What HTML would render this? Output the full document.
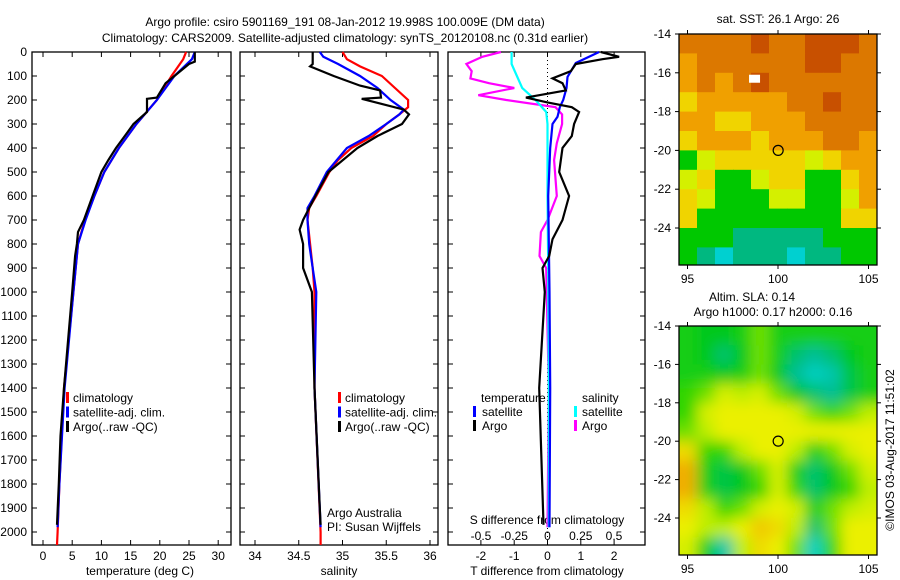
<!DOCTYPE html>
<html><head><meta charset="utf-8"><style>
html,body{margin:0;padding:0;background:#fff;}
svg{display:block;font-family:"Liberation Sans",sans-serif;}
text{font-size:12px;fill:#000;}
</style></head><body>
<svg id="c" width="900" height="580" viewBox="0 0 900 580">
<defs>
<filter id="blur" x="-5%" y="-5%" width="110%" height="110%"><feGaussianBlur stdDeviation="7"/></filter>
<clipPath id="clip1"><rect x="679" y="34" width="198" height="231"/></clipPath>
<clipPath id="clip2"><rect x="679" y="326" width="198" height="229"/></clipPath>
</defs>
<text x="345" y="26" text-anchor="middle">Argo profile: csiro 5901169_191 08-Jan-2012 19.998S 100.009E (DM data)</text>
<text x="345" y="42" text-anchor="middle">Climatology: CARS2009. Satellite-adjusted climatology: synTS_20120108.nc (0.31d earlier)</text>
<g id="g"></g>
</svg>
<script>
// ---------- data ----------
const depthTicks=[0,100,200,300,400,500,600,700,800,900,1000,1100,1200,1300,1400,1500,1600,1700,1800,1900,2000];
const tempTicks=[0,5,10,15,20,25,30];
const salTicks=[34,34.5,35,35.5,36];
const tdTicks=[-2,-1,0,1,2];
const sdTicks=[-0.5,-0.25,0,0.25,0.5];
const sdTickLabels=["-0.5","-0.25","0","0.25","0.5"];

const tClimDepth=[0,30,100,200,300,400,500,600,700,800,1000,1400,1800,2000,2054];
const tClimVal=[24.5,24,22,19.5,16,13,10.5,8.8,7.2,6,5.2,3.6,2.8,2.5,2.4];
const tSatDepth=[0,30,100,200,300,400,500,600,700,800,1000,1400,1800,1980];
const tSatVal=[26,25.5,22.5,19.5,16,13,10.5,8.8,7.3,6,5.2,3.7,2.8,2.5];
const tArgoDepth=[0,40,50,100,130,190,195,250,300,350,400,450,500,600,700,750,800,850,1000,1200,1400,1600,1800,1970];
const tArgoVal=[26,26,25,22.5,21,19.5,17.8,17.8,15.5,14,12.5,11.2,10,8.5,7,6,5.8,5.5,5,4.3,3.6,3,2.7,2.4];

const sClimDepth=[0,30,60,100,150,200,230,260,300,350,400,450,500,600,650,700,800,900,1000,1400,2000,2054];
const sClimVal=[35.0,35.05,35.2,35.45,35.6,35.75,35.75,35.65,35.5,35.35,35.1,34.95,34.85,34.7,34.62,34.6,34.63,34.66,34.68,34.68,34.75,34.75];
const sSatDepth=[0,20,50,100,150,200,240,260,300,350,400,500,600,650,700,800,900,1000,1400,1980];
const sSatVal=[34.74,34.78,34.95,35.2,35.4,35.55,35.7,35.65,35.5,35.3,35.05,34.82,34.68,34.6,34.6,34.62,34.66,34.7,34.68,34.75];
const sArgoDepth=[0,50,60,100,140,160,190,195,240,260,300,350,400,500,600,700,740,800,900,1000,1400,1900,1970];
const sArgoVal=[34.66,34.66,34.63,34.9,35.2,35.43,35.44,35.22,35.7,35.76,35.68,35.4,35.17,34.84,34.69,34.55,34.51,34.55,34.55,34.65,34.68,34.74,34.75];

const dtSatDepth=[0,46,104,150,200,230,270,300,400,600,1000,1400,1980];
const dtSatVal=[1.55,0.85,0.6,0.57,0.47,0.37,0.3,0.15,0.08,0.02,0.06,0.08,0.06];
const dtArgoDepth=[0,20,30,50,80,110,130,160,180,190,210,230,250,300,350,400,500,600,700,780,850,900,1000,1400,1970];
const dtArgoVal=[1.6,2.15,1.65,0.85,0.7,0.15,0.45,0.55,-0.25,-0.65,0,0.73,0.95,0.8,0.73,0.45,0.35,0.65,0.45,0.15,0.05,-0.15,-0.08,-0.25,-0.12];
const dsSatDepth=[0,50,100,150,200,250,300,600,900,1400,1980];
const dsSatVal=[-0.27,-0.27,-0.23,-0.19,-0.09,-0.01,0,0,0.005,0.01,0.01];
const dsArgoDepth=[0,20,50,80,110,130,150,180,200,230,260,300,380,450,600,700,750,850,900,1400,1980];
const dsArgoVal=[-0.35,-0.49,-0.61,-0.57,-0.58,-0.44,-0.25,-0.52,-0.31,0.06,0.11,0.11,0.07,0.05,0.07,0,-0.05,-0.06,-0.01,0.01,0];

// SST map (colour class 0 dark orange .. 7 cyan), rows -14 to -26, cols 94.5 to 105.5
const sstGrid=[
[1,1,1,1,0,1,1,0,0,0,1],
[2,1,1,1,1,1,1,0,0,1,1],
[2,1,2,1,0,1,1,1,1,1,1],
[3,2,2,2,2,2,1,1,0,1,1],
[2,2,3,3,2,2,2,1,1,1,1],
[3,2,2,2,3,2,2,2,1,1,2],
[5,4,3,3,3,3,3,4,3,2,2],
[4,3,5,5,4,3,3,5,5,3,2],
[3,4,5,5,5,4,4,5,5,4,2],
[3,5,5,5,5,5,5,5,5,3,3],
[5,5,5,6,6,6,6,6,5,5,5],
[5,6,7,6,6,6,7,6,6,5,5]];
const slaGrid=[
[.35,.3,.3,.35,.45,.35,.35,.35,.35,.35,.35],
[.35,.3,.2,.3,.45,.35,.2,.15,.2,.3,.35],
[.35,.35,.3,.35,.45,.3,.15,.05,.1,.25,.35],
[.4,.45,.55,.5,.55,.45,.3,.2,.15,.25,.35],
[.4,.55,.6,.6,.6,.6,.55,.45,.4,.45,.5],
[.45,.5,.6,.6,.6,.6,.6,.6,.6,.6,.6],
[.65,.4,.4,.5,.6,.6,.5,.35,.45,.55,.6],
[.75,.35,.25,.3,.45,.55,.35,.2,.3,.45,.55],
[.75,.35,.25,.3,.4,.55,.4,.2,.3,.4,.5],
[.65,.5,.4,.45,.55,.6,.55,.35,.45,.5,.55],
[.6,.5,.5,.6,.7,.65,.5,.2,.45,.6,.6],
[.55,.35,.1,.5,.65,.6,.45,.05,.4,.6,.6]];
const latTicks=[-14,-16,-18,-20,-22,-24];
const lonTicks=[95,100,105];

// ---------- helpers ----------
const NS="http://www.w3.org/2000/svg";
const G=document.getElementById('g');
function mk(tag,attrs,parent){const e=document.createElementNS(NS,tag);for(const k in attrs)e.setAttribute(k,attrs[k]);(parent||G).appendChild(e);return e;}
const yD=d=>52+d*0.24;
const xT=t=>43+t*5.84;
const xS=s=>255+(s-34)*87.5;
const xDT=v=>547.5+v*33.3;
const xDS=v=>547.5+v*133;

function panel(x0,x1,name){
  const r=mk('rect',{x:x0,y:52,width:x1-x0,height:493,fill:'none',stroke:'#000','stroke-width':1.3});
  
  
  depthTicks.forEach(d=>{
    const t1=mk('line',{x1:x0,x2:x0+5,y1:yD(d),y2:yD(d),stroke:'#000'});
    
    
    const t2=mk('line',{x1:x1,x2:x1-5,y1:yD(d),y2:yD(d),stroke:'#000'});
    
    
  });
}
function xticks(vals,labels,fx,name,ly){
  vals.forEach((v,i)=>{
    const x=fx(v);
    const a=mk('line',{x1:x,x2:x,y1:545,y2:540,stroke:'#000'});
    
    
    const b=mk('line',{x1:x,x2:x,y1:52,y2:57,stroke:'#000'});
    
    
    const t=mk('text',{x:x,y:ly,'text-anchor':'middle'});t.textContent=labels[i];
    
    
  });
}
function line(ds,vs,fx,color,name,w){
  const pts=ds.map((d,i)=>fx(vs[i]).toFixed(1)+','+yD(d).toFixed(1)).join(' ');
  const p=mk('polyline',{points:pts,fill:'none',stroke:color,'stroke-width':w||2.2,'stroke-linejoin':'miter'});
  
  
}
function txt(x,y,s,name,anchor){const t=mk('text',{x:x,y:y,'text-anchor':anchor||'start'});t.textContent=s;
  
  return t;}
function legMark(x,y,color,name){const r=mk('rect',{x:x,y:y-10,width:3,height:11,fill:color});
  
  }

// ---------- panels ----------
panel(32,231,'temperature-panel');
panel(240,438,'salinity-panel');
panel(448,645,'difference-panel');
depthTicks.forEach(d=>{txt(27,yD(d)+4,String(d),'depth-tick-label','end');});

xticks(tempTicks,tempTicks.map(String),xT,'temperature',560);
xticks(salTicks,salTicks.map(String),xS,'salinity',560);
xticks(tdTicks,tdTicks.map(String),xDT,'t-difference',560);
sdTicks.forEach((v,i)=>{txt(xDS(v),540,sdTickLabels[i],'s-difference-tick-label','middle');});
txt(140,575,'temperature (deg C)','temperature-axis-title','middle');
txt(339,575,'salinity','salinity-axis-title','middle');
txt(547,575,'T difference from climatology','t-difference-axis-title','middle');
txt(547,524,'S difference from climatology','s-difference-axis-title','middle');

// zero line
const z=mk('line',{x1:xDT(0),x2:xDT(0),y1:52,y2:545,stroke:'#000','stroke-dasharray':'1,3'});



line(tClimDepth,tClimVal,xT,'#ff0000','temp-climatology-line');
line(tSatDepth,tSatVal,xT,'#0000ff','temp-satellite-line');
line(tArgoDepth,tArgoVal,xT,'#000000','temp-argo-line');
line(sClimDepth,sClimVal,xS,'#ff0000','sal-climatology-line');
line(sSatDepth,sSatVal,xS,'#0000ff','sal-satellite-line');
line(sArgoDepth,sArgoVal,xS,'#000000','sal-argo-line');
line(dsArgoDepth,dsArgoVal,xDS,'#ff00ff','s-diff-argo-line');
line(dsSatDepth,dsSatVal,xDS,'#00ffff','s-diff-satellite-line');
line(dtSatDepth,dtSatVal,xDT,'#0000ff','t-diff-satellite-line');
line(dtArgoDepth,dtArgoVal,xDT,'#000000','t-diff-argo-line');

// legends
[['climatology','#ff0000'],['satellite-adj. clim.','#0000ff'],['Argo(..raw -QC)','#000000']].forEach((e,i)=>{
  legMark(66,402+i*14.5,e[1],'temp-legend-marker');
  txt(73,402+i*14.5,e[0],'temp-legend-entry');
  legMark(338,402+i*14.5,e[1],'sal-legend-marker');
  txt(345,402+i*14.5,e[0],'sal-legend-entry');
});
txt(481,402,'temperature','diff-legend-temperature-header');
txt(582,402,'salinity','diff-legend-salinity-header');
legMark(473,416,'#0000ff','diff-legend-marker');txt(482,416,'satellite','diff-legend-entry');
legMark(473,430,'#000000','diff-legend-marker');txt(482,430,'Argo','diff-legend-entry');
legMark(574,416,'#00ffff','diff-legend-marker');txt(582,416,'satellite','diff-legend-entry');
legMark(574,430,'#ff00ff','diff-legend-marker');txt(582,430,'Argo','diff-legend-entry');
txt(327,517,'Argo Australia','credit-line-1');
txt(327,531,'PI: Susan Wijffels','credit-line-2');

// ---------- maps ----------
const sstCols=['#c85000','#dc7800','#f0a000','#f0d400','#d4f000','#00c800','#00b880','#00d0d0'];
const xLon=l=>778+(l-100)*18.1;
function slaColor(v){
  const stops=[[0,[0,215,215]],[0.15,[0,190,150]],[0.3,[0,200,30]],[0.42,[60,215,0]],[0.5,[190,238,0]],[0.6,[235,240,0]],[0.7,[240,200,0]],[0.8,[240,150,0]]];
  for(let i=1;i<stops.length;i++){if(v<=stops[i][0]){const a=stops[i-1],b=stops[i],f=(v-a[0])/(b[0]-a[0]);
    return 'rgb('+a[1].map((c,k)=>Math.round(c+(b[1][k]-c)*f)).join(',')+')';}}
  return 'rgb(240,150,0)';
}
function map(y0,yLat,grid,colorFn,clip,blur,name){
  const gm=mk('g',{'clip-path':'url(#'+clip+')'});
  
  
  const inner=blur?mk('g',{filter:'url(#blur)'},gm):gm;
  const cw=198/grid[0].length, rh=(yLat(-26)-y0)/grid.length;
  grid.forEach((row,r)=>row.forEach((v,c)=>{
    const cell=mk('rect',{x:(679+c*cw-(blur&&c==0?30:0)).toFixed(1),y:(y0+r*rh-(blur&&r==0?30:0)).toFixed(1),width:(cw+0.6+(blur&&(c==0||c==row.length-1)?30:0)).toFixed(1),height:(rh+0.6+(blur&&(r==0||r==grid.length-1)?30:0)).toFixed(1),fill:colorFn(v)},inner);
    
    
  }));
  const h=(clip=='clip1')?231:229;
  const fr=mk('rect',{x:679,y:y0,width:198,height:h,fill:'none',stroke:'#000','stroke-width':1.3});
  
  
  latTicks.forEach(l=>{
    const y=yLat(l);
    const a=mk('line',{x1:675,x2:679,y1:y,y2:y,stroke:'#000'});
    
    
    const b=mk('line',{x1:877,x2:881,y1:y,y2:y,stroke:'#000'});
    
    
    txt(671,y+4,String(l),'lat-tick-label','end');
  });
  lonTicks.forEach(l=>{
    const x=xLon(l);
    const a=mk('line',{x1:x,x2:x,y1:y0+h,y2:y0+h+4,stroke:'#000'});
    
    
    const b=mk('line',{x1:x,x2:x,y1:y0,y2:y0-4,stroke:'#000'});
    
    
    txt(x,y0+h+18,String(l),'lon-tick-label','middle');
  });
  const c=mk('circle',{cx:xLon(100.009),cy:yLat(-19.998),r:5,fill:'none',stroke:'#000','stroke-width':1.2});
  
  
}
const yLat1=l=>34+(-14-l)*19.4;
const yLat2=l=>326+(-14-l)*19.2;
map(34,yLat1,sstGrid,v=>sstCols[v],'clip1',false,'sst-map');
const wb=mk('rect',{x:xLon(98.4),y:yLat1(-16.1),width:11,height:8,fill:'#fff'});


map(326,yLat2,slaGrid,slaColor,'clip2',true,'sla-map');
txt(778,23,'sat. SST: 26.1 Argo: 26','sst-map-title','middle');
txt(752,301,'Altim. SLA: 0.14','sla-map-title','middle');
txt(773,316,'Argo h1000: 0.17 h2000: 0.16','sla-map-subtitle','middle');
const ts=txt(0,0,'©IMOS 03-Aug-2017 11:51:02','timestamp','middle');
ts.setAttribute('transform','translate(894,450) rotate(-90)');
</script>
</body></html>
